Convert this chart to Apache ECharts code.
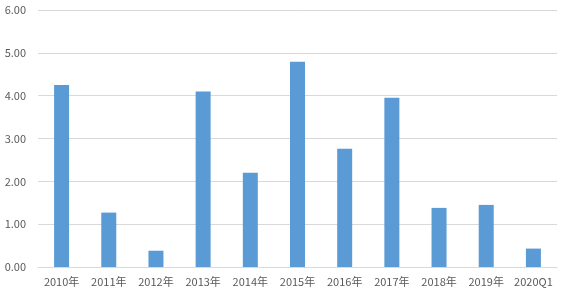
<!DOCTYPE html>
<html><head><meta charset="utf-8">
<script src="https://cdn.jsdelivr.net/npm/echarts@6/dist/echarts.min.js"></script>
<style>html,body{margin:0;padding:0;background:#fff}#c{width:562px;height:293px}</style>
</head><body><div id="c"></div>
<script>
const categories = ['2010年','2011年','2012年','2013年','2014年','2015年','2016年','2017年','2018年','2019年','2020Q1'];
const values = [4.25, 1.27, 0.38, 4.10, 2.20, 4.79, 2.76, 3.95, 1.38, 1.45, 0.43];
const chart = echarts.init(document.getElementById('c'), null, {renderer:'canvas'});
const font = '"Noto Sans CJK SC", "Noto Sans", sans-serif';
chart.setOption({
  animation: false,
  grid: {left: 38, right: 5, top: 10, bottom: 26},
  xAxis: {
    type: 'category', data: categories,
    axisLine: {lineStyle: {color: '#d9d9d9'}},
    axisTick: {show: false},
    axisLabel: {color: '#595959', fontSize: 11, fontFamily: font, margin: 9, interval: 0}
  },
  yAxis: {
    type: 'value', min: 0, max: 6, interval: 1,
    axisLine: {show: false}, axisTick: {show: false},
    splitLine: {lineStyle: {color: '#d9d9d9'}},
    axisLabel: {color: '#595959', fontSize: 11, fontFamily: font, margin: 12,
      formatter: v => v.toFixed(2)}
  },
  series: [{type: 'bar', data: values, barWidth: 15, itemStyle: {color: '#5b9bd5'}}]
});
</script></body></html>
